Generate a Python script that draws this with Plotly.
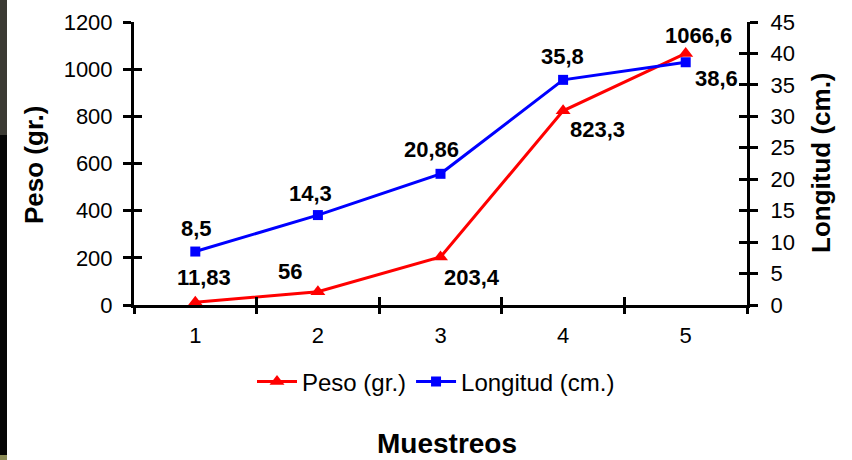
import plotly.graph_objects as go

muestreos = [1, 2, 3, 4, 5]
tick_labels = ["1", "2", "3", "4", "5"]
peso = [11.83, 56, 203.4, 823.3, 1066.6]
peso_labels = ["11,83", "56", "203,4", "823,3", "1066,6"]
longitud = [8.5, 14.3, 20.86, 35.8, 38.6]
longitud_labels = ["8,5", "14,3", "20,86", "35,8", "38,6"]

# label offsets (px)
peso_dx = [9, -28, 31, 34, 13]
peso_dy = [25, 20, -20, -19, 18]
long_dx = [1, -7, -9, -1, 31]
long_dy = [23, 22, 24, 23, -16]

FONT = "Liberation Sans, Arial, sans-serif"
W, H = 852, 460
L, R, T, B = 134, 105, 22, 155
PW, PH = W - L - R, H - T - B

def px_x(x):
    return (x - L) / PW

def px_y(y):
    return (H - B - y) / PH

fig = go.Figure()
fig.add_trace(go.Scatter(
    x=muestreos, y=peso, name="Peso (gr.)", mode="lines+markers",
    line=dict(color="#FF0000", width=3),
    marker=dict(symbol="triangle-up", size=13, color="#FF0000"),
    yaxis="y", xaxis="x"))
fig.add_trace(go.Scatter(
    x=muestreos, y=longitud, name="Longitud (cm.)", mode="lines+markers",
    line=dict(color="#0000FF", width=3),
    marker=dict(symbol="square", size=10, color="#0000FF"),
    yaxis="y2", xaxis="x"))
# empty helper traces so the tick-only overlay axes get drawn
for xa, ya in (("x2", "y3"), ("x3", "y4")):
    fig.add_trace(go.Scatter(x=[None], y=[None], xaxis=xa, yaxis=ya,
                             showlegend=False, hoverinfo="skip", mode="markers"))

ann = []
for xv, yv, t, dx, dy in zip(muestreos, peso, peso_labels, peso_dx, peso_dy):
    ann.append(dict(x=xv, y=yv, xref="x", yref="y", text="<b>%s</b>" % t,
                    showarrow=False, xshift=dx, yshift=dy,
                    font=dict(family=FONT, size=22, color="black")))
for xv, yv, t, dx, dy in zip(muestreos, longitud, longitud_labels, long_dx, long_dy):
    ann.append(dict(x=xv, y=yv, xref="x", yref="y2", text="<b>%s</b>" % t,
                    showarrow=False, xshift=dx, yshift=dy,
                    font=dict(family=FONT, size=22, color="black")))

# axis titles
ann.append(dict(x=px_x(34), y=px_y(165), xref="paper", yref="paper",
                xanchor="center", yanchor="middle",
                text="<b>Peso (gr.)</b>", textangle=-90, showarrow=False,
                font=dict(family=FONT, size=26, color="black")))
ann.append(dict(x=px_x(821), y=px_y(163), xref="paper", yref="paper",
                xanchor="center", yanchor="middle",
                text="<b>Longitud (cm.)</b>", textangle=-90, showarrow=False,
                font=dict(family=FONT, size=26, color="black")))
ann.append(dict(x=px_x(447), y=px_y(443), xref="paper", yref="paper",
                xanchor="center", yanchor="middle",
                text="<b>Muestreos</b>", showarrow=False,
                font=dict(family=FONT, size=28, color="black")))

bounds = [0.5, 1.5, 2.5, 3.5, 4.5, 5.5]
axis_common = dict(showgrid=False, zeroline=False, linecolor="black",
                   linewidth=3, tickcolor="black", tickwidth=3, ticklen=8,
                   automargin=False,
                   tickfont=dict(family=FONT, size=22, color="black"))

fig.update_layout(
    template="none",
    width=W, height=H,
    margin=dict(l=L, r=R, t=T, b=B, pad=0),
    paper_bgcolor="white", plot_bgcolor="white",
    showlegend=True,
    legend=dict(orientation="h", x=px_x(436), y=px_y(382),
                xanchor="center", yanchor="middle",
                font=dict(family=FONT, size=24, color="black"),
                bgcolor="rgba(0,0,0,0)", itemwidth=40),
    xaxis=dict(range=[0.5, 5.5], tickvals=muestreos, ticktext=tick_labels,
               ticks="", showline=True, ticklabelstandoff=9,
               **{k: v for k, v in axis_common.items() if k not in ("ticklen",)}),
    xaxis2=dict(range=[0.5, 5.5], overlaying="x", anchor="y", tickvals=bounds,
                ticks="outside", showticklabels=False, showline=False,
                **axis_common),
    xaxis3=dict(range=[0.5, 5.5], overlaying="x", anchor="y", tickvals=bounds,
                ticks="inside", showticklabels=False, showline=False,
                **axis_common),
    yaxis=dict(range=[0, 1200], dtick=200, ticks="outside", showline=True,
               ticklabelstandoff=6, **axis_common),
    yaxis3=dict(range=[0, 1200], dtick=200, ticks="inside", overlaying="y",
                anchor="x", showticklabels=False, showline=False, **axis_common),
    yaxis2=dict(range=[0, 45], dtick=5, ticks="outside", overlaying="y",
                side="right", anchor="x", showline=True, ticklabelstandoff=8,
                **axis_common),
    yaxis4=dict(range=[0, 45], dtick=5, ticks="inside", overlaying="y",
                side="right", anchor="x", showticklabels=False, showline=False,
                **axis_common),
    annotations=ann,
    shapes=[
        dict(type="rect", xref="paper", yref="paper", x0=px_x(0), x1=px_x(7),
             y0=px_y(135), y1=px_y(0), fillcolor="#3b3a33", line_width=0, layer="below"),
        dict(type="rect", xref="paper", yref="paper", x0=px_x(0), x1=px_x(7),
             y0=px_y(455), y1=px_y(135), fillcolor="#050505", line_width=0, layer="below"),
        dict(type="rect", xref="paper", yref="paper", x0=px_x(0), x1=px_x(7),
             y0=px_y(460), y1=px_y(455), fillcolor="#8a8a55", line_width=0, layer="below"),
    ],
)

fig.write_html("out.html", config={"displayModeBar": False},
               post_script="document.body.style.margin='0';document.body.style.overflow='hidden';")
